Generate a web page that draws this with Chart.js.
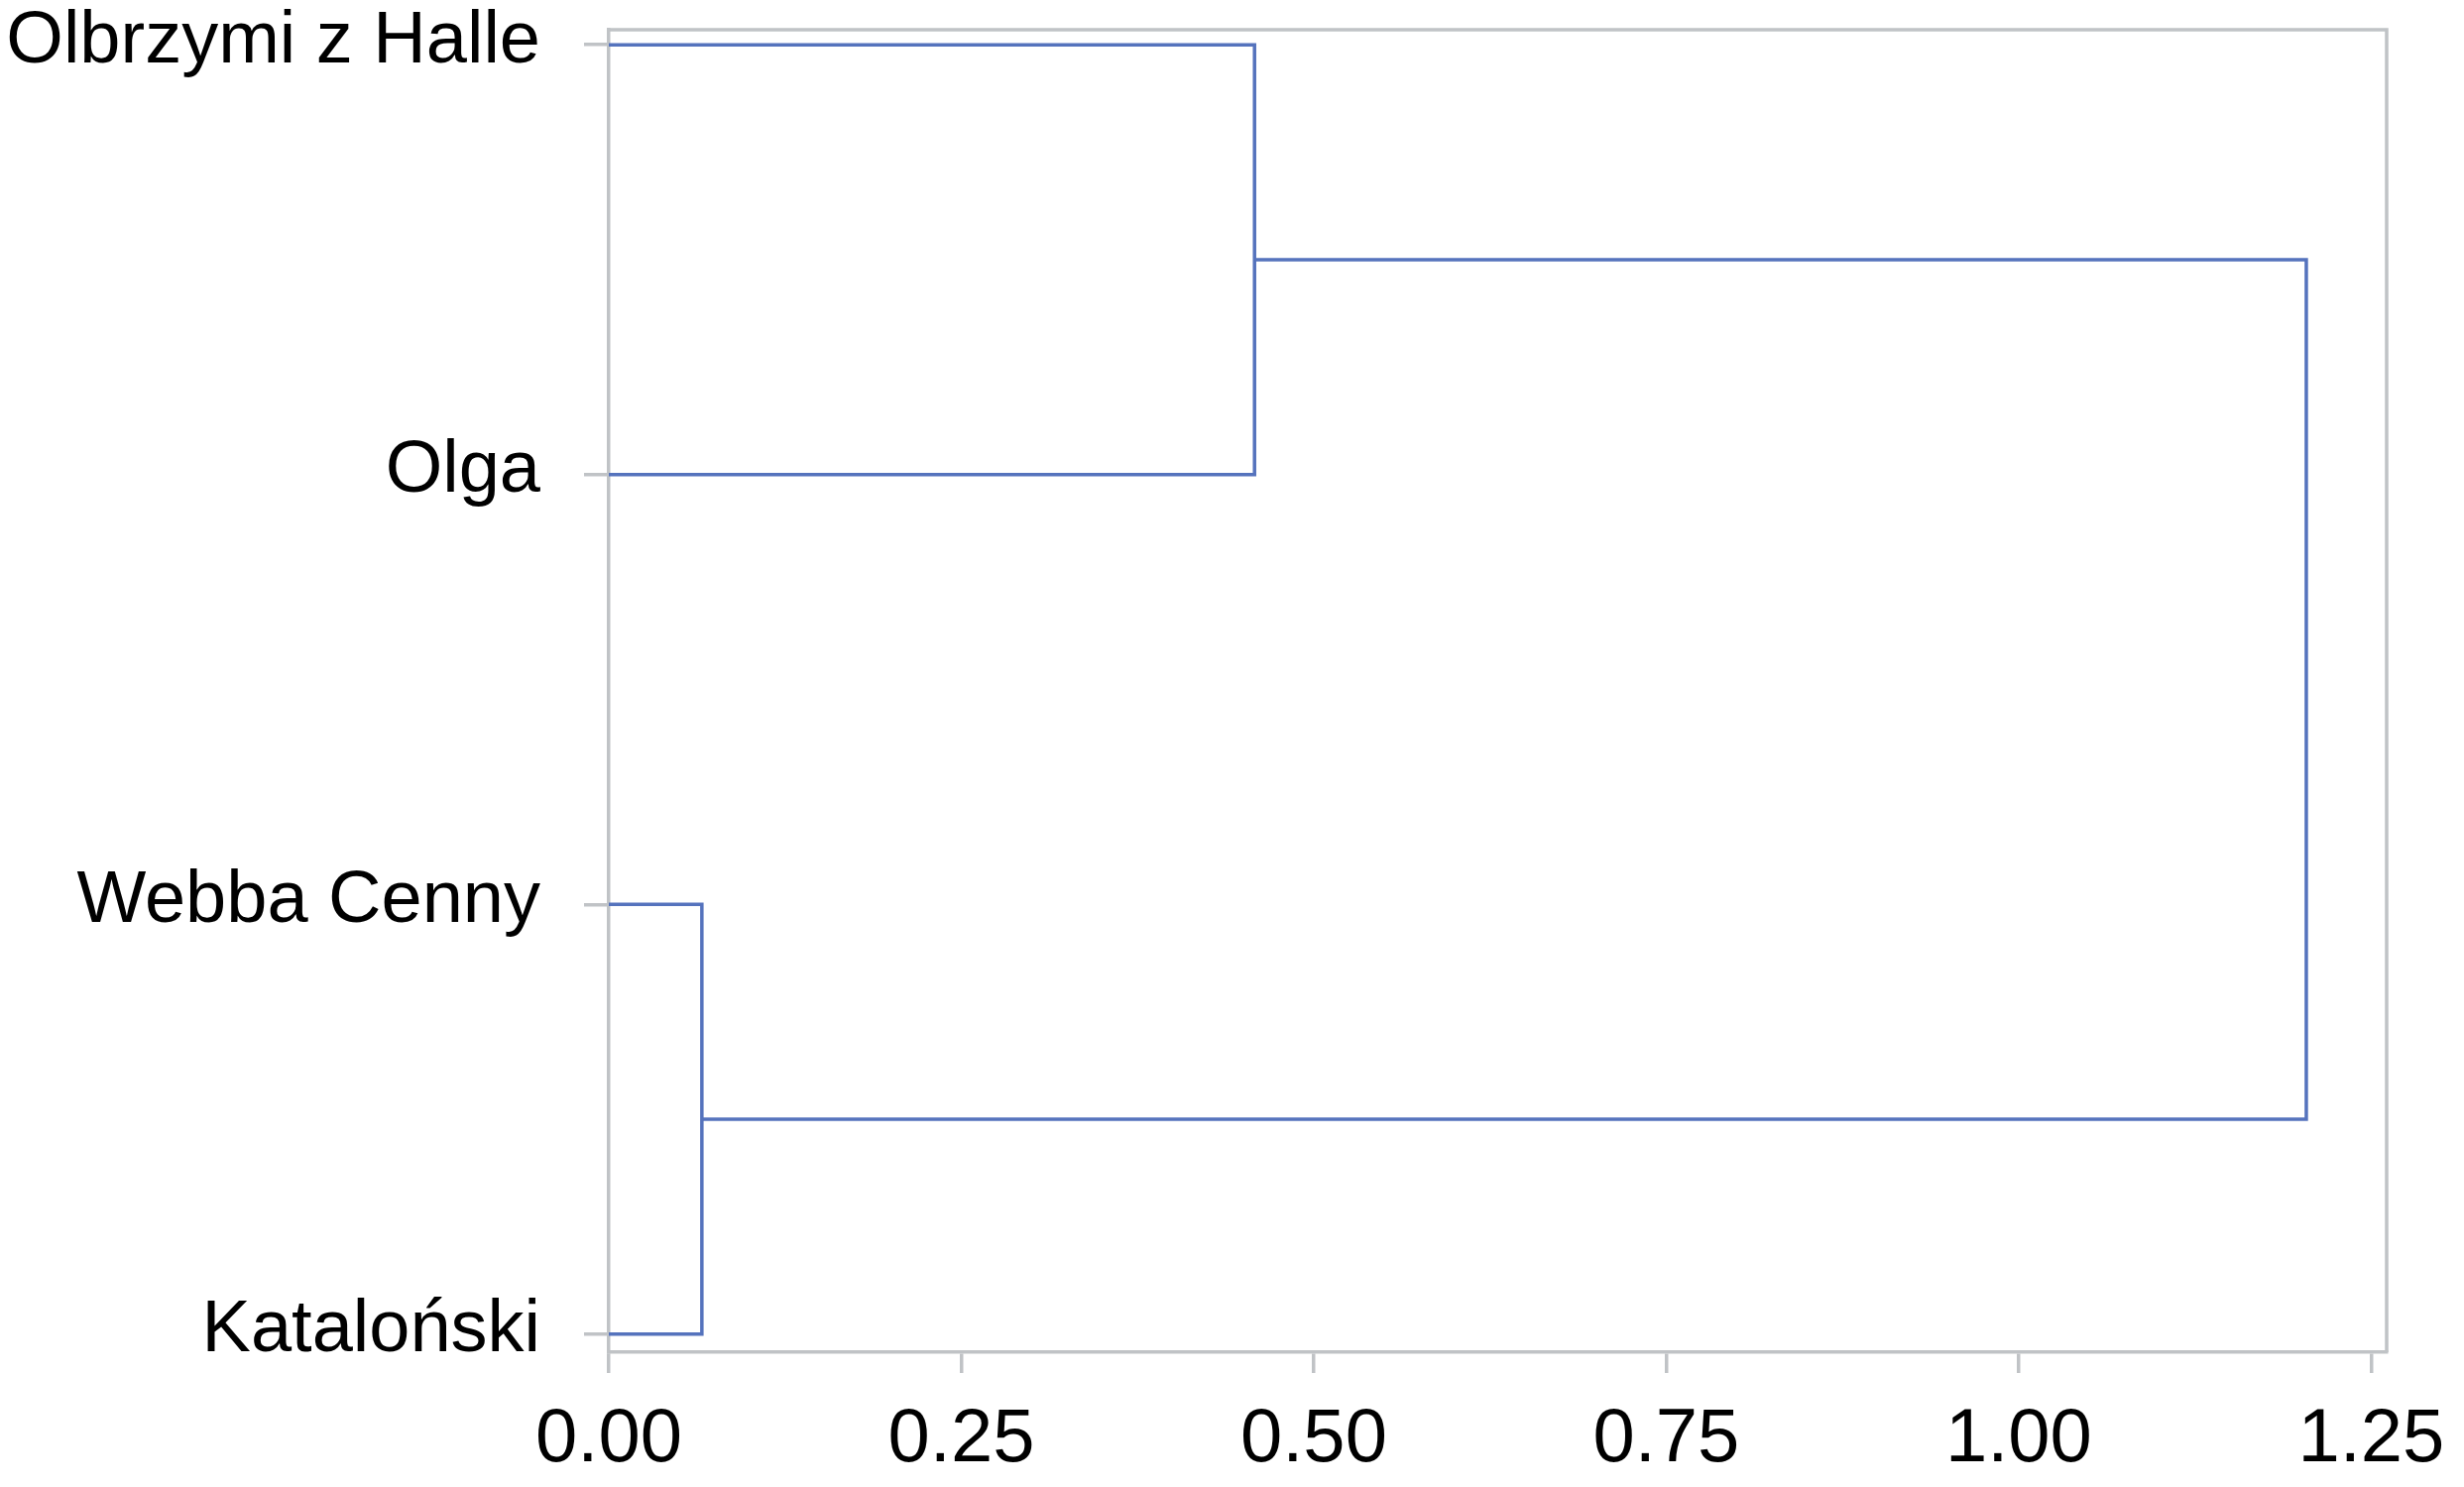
<!DOCTYPE html>
<html>
<head>
<meta charset="utf-8">
<script src="https://cdn.jsdelivr.net/npm/chart.js@4.4.0/dist/chart.umd.min.js"></script>
<style>
    html, body { margin: 0; background: #fff; }
    #wrap { width: 2485px; height: 1500px; }
</style>
</head>
<body>
<div id="wrap"><canvas id="chart" width="2485" height="1500"></canvas></div>
<script>
// leaves, top to bottom
const leafNames = ['Olbrzymi z Halle', 'Olga', 'Webba Cenny', 'Kataloński'];
const leafPos = [0, 1, 2, 3];
// merges: child ids (0-3 leaves, 4+ earlier merges) and the join height
const mergePairs = [[0, 1], [2, 3], [4, 5]];
const mergeHeights = [0.458, 0.066, 1.204];
const xTicks = [0, 0.25, 0.5, 0.75, 1.0, 1.25];

const lineBlue = '#5573bd';
const frameGrey = '#c0c3c6';
const labelFont = { family: '"Liberation Sans", Arial, sans-serif', size: 74 };

// node positions, leaves first then clusters
const nodes = leafPos.map(p => ({ x: 0, y: p }));
const datasets = [];
mergePairs.forEach((pair, i) => {
    const a = nodes[pair[0]];
    const b = nodes[pair[1]];
    const h = mergeHeights[i];
    datasets.push({
        data: [{ x: a.x, y: a.y }, { x: h, y: a.y }, { x: h, y: b.y }, { x: b.x, y: b.y }],
        showLine: true,
        borderColor: lineBlue,
        borderWidth: 3.5,
        pointRadius: 0,
        fill: false,
        tension: 0
    });
    nodes.push({ x: h, y: (a.y + b.y) / 2 });
});

// top and right edges of the box
const framePlugin = {
    id: 'frame',
    afterDraw(chart) {
        const a = chart.chartArea;
        const ctx = chart.ctx;
        ctx.save();
        ctx.strokeStyle = frameGrey;
        ctx.lineWidth = 3.5;
        ctx.beginPath();
        ctx.moveTo(a.left, a.top);
        ctx.lineTo(a.right, a.top);
        ctx.lineTo(a.right, a.bottom);
        ctx.stroke();
        ctx.restore();
    }
};

new Chart(document.getElementById('chart'), {
    type: 'scatter',
    data: { datasets: datasets },
    options: {
        responsive: false,
        animation: false,
        devicePixelRatio: 1,
        layout: { padding: { top: 30, right: 78, left: 0, bottom: 0 } },
        plugins: { legend: { display: false }, tooltip: { enabled: false } },
        scales: {
            x: {
                type: 'linear',
                position: 'bottom',
                min: 0,
                max: 1.261,
                afterBuildTicks: s => { s.ticks = xTicks.map(v => ({ value: v })); },
                afterFit: s => { s.height = 136; s.paddingLeft = 0; s.paddingRight = 0; },
                ticks: {
                    callback: v => Number(v).toFixed(2),
                    font: { family: labelFont.family, size: 76 },
                    color: '#000',
                    padding: 22,
                    maxRotation: 0,
                    autoSkip: false
                },
                grid: { drawOnChartArea: false, drawTicks: true, tickLength: 21, color: frameGrey, lineWidth: 3.5 },
                border: { display: true, color: frameGrey, width: 3.5 }
            },
            y: {
                type: 'linear',
                position: 'left',
                reverse: true,
                min: -0.035,
                max: 3.042,
                afterBuildTicks: s => { s.ticks = leafPos.map(v => ({ value: v })); },
                afterFit: s => { s.width = 614; s.paddingTop = 0; s.paddingBottom = 0; },
                ticks: {
                    callback: v => leafNames[v],
                    font: labelFont,
                    color: '#000',
                    padding: 44,
                    labelOffset: -3,
                    autoSkip: false
                },
                grid: { drawOnChartArea: false, drawTicks: true, tickLength: 25, color: frameGrey, lineWidth: 3.5 },
                border: { display: true, color: frameGrey, width: 3.5 }
            }
        }
    },
    plugins: [framePlugin]
});
</script>
</body>
</html>
